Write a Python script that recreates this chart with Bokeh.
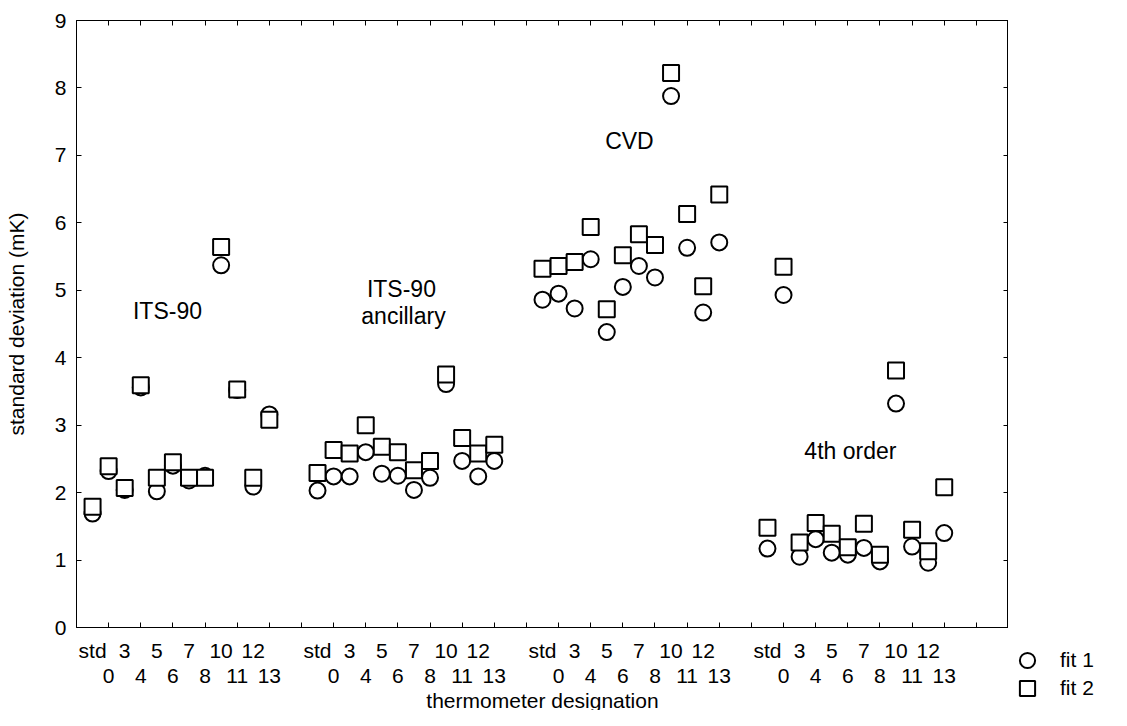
from bokeh.plotting import figure
from bokeh.models import (Range1d, FixedTicker, LinearAxis, Legend, LegendItem,
                          Label, ColumnDataSource, Spacer)
from bokeh.layouts import row, column
from bokeh.embed import file_html
from bokeh.resources import INLINE

groups = ["ITS-90", "ITS-90 ancillary", "CVD", "4th order"]
thermometers = ["std", "0", "3", "4", "5", "6", "7", "8", "10", "11", "12", "13"]

fit1_its90 = [1.69, 2.32, 2.04, 3.56, 2.02, 2.40, 2.18, 2.25, 5.37, 3.52, 2.09, 3.16]
fit2_its90 = [1.79, 2.39, 2.07, 3.59, 2.22, 2.45, 2.22, 2.22, 5.64, 3.53, 2.22, 3.08]
fit1_anc = [2.03, 2.24, 2.24, 2.60, 2.28, 2.25, 2.04, 2.22, 3.61, 2.47, 2.24, 2.47]
fit2_anc = [2.29, 2.63, 2.58, 3.00, 2.68, 2.60, 2.33, 2.47, 3.75, 2.81, 2.58, 2.71]
fit1_cvd = [4.86, 4.95, 4.73, 5.46, 4.38, 5.05, 5.36, 5.19, 7.88, 5.63, 4.67, 5.71]
fit2_cvd = [5.32, 5.36, 5.42, 5.94, 4.72, 5.52, 5.83, 5.67, 8.22, 6.13, 5.06, 6.42]
fit1_4th = [1.17, 4.93, 1.05, 1.31, 1.11, 1.08, 1.18, 0.98, 3.32, 1.20, 0.96, 1.40]
fit2_4th = [1.48, 5.35, 1.26, 1.55, 1.39, 1.19, 1.54, 1.08, 3.81, 1.45, 1.13, 2.08]

y_ticks = [0, 1, 2, 3, 4, 5, 6, 7, 8, 9]

fit1 = [fit1_its90, fit1_anc, fit1_cvd, fit1_4th]
fit2 = [fit2_its90, fit2_anc, fit2_cvd, fit2_4th]

slot = len(thermometers) + 2  # two empty slots between groups
xs, y1, y2 = [], [], []
label_pos, overrides = [], {}
for g in range(len(groups)):
    for i, t in enumerate(thermometers):
        x = g * slot + i + 1
        xs.append(x)
        y1.append(fit1[g][i])
        y2.append(fit2[g][i])
        label_pos.append(x)
        overrides[x] = t if i % 2 == 0 else "\n" + t
x_max = len(groups) * slot + 2
minor = list(range(2, x_max - 1, 2))

src = ColumnDataSource(dict(x=xs, y1=y1, y2=y2))

FONT = "Liberation Sans"
TS = "21px"
W_MAIN = 1008

p = figure(width=W_MAIN, height=689, x_range=Range1d(0, x_max), y_range=Range1d(0, 9),
           output_backend="svg", toolbar_location=None,
           min_border_left=76, min_border_right=0, min_border_top=20, min_border_bottom=61,
           x_axis_type=None, y_axis_type=None)
p.grid.visible = False
p.outline_line_color = "black"
p.outline_line_width = 1
p.background_fill_color = "white"
p.border_fill_color = "white"

xt = FixedTicker(ticks=label_pos, minor_ticks=minor)
xb = LinearAxis(ticker=xt, major_label_overrides=overrides)
xb.major_tick_line_color = None
xb.minor_tick_in = 5
xb.minor_tick_out = 0
xb.minor_tick_line_color = "black"
xb.major_label_standoff = 5
xb.major_label_text_font = FONT
xb.major_label_text_font_size = TS
xb.major_label_text_line_height = 1.1
xb.major_label_text_color = "black"
xb.axis_line_color = "black"
p.add_layout(xb, "below")

xa = LinearAxis(ticker=FixedTicker(ticks=minor, minor_ticks=[]))
xa.major_tick_in = 5
xa.major_tick_out = 0
xa.minor_tick_line_color = None
xa.major_label_text_font_size = "0px"
xa.major_label_text_color = None
xa.major_label_standoff = 0
p.add_layout(xa, "above")

yt = FixedTicker(ticks=y_ticks, minor_ticks=[])
yl = LinearAxis(ticker=yt, axis_label="standard deviation (mK)")
yl.major_tick_in = 5
yl.major_tick_out = 0
yl.minor_tick_line_color = None
yl.major_label_standoff = 10
yl.major_label_text_font = FONT
yl.major_label_text_font_size = TS
yl.major_label_text_color = "black"
yl.axis_label_text_font = FONT
yl.axis_label_text_font_size = TS
yl.axis_label_text_font_style = "normal"
yl.axis_label_text_color = "black"
yl.axis_label_standoff = 24
p.add_layout(yl, "left")

yr = LinearAxis(ticker=FixedTicker(ticks=y_ticks, minor_ticks=[]))
yr.major_tick_in = 5
yr.major_tick_out = 0
yr.minor_tick_line_color = None
yr.major_label_text_font_size = "0px"
yr.major_label_text_color = None
yr.major_label_standoff = 0
p.add_layout(yr, "right")

mk1 = dict(marker="circle", size=16, line_width=2, line_color="black", fill_color="white")
mk2 = dict(marker="square", size=16, line_width=2, line_color="black", fill_color="white")
r1 = p.scatter("x", "y1", source=src, **mk1)
r2 = p.scatter("x", "y2", source=src, **mk2)

for txt, lx, ly in [("ITS-90", 5.66, 4.69), ("ITS-90", 20.22, 5.02),
                    ("ancillary", 20.35, 4.62), ("CVD", 34.41, 7.22),
                    ("4th order", 48.16, 2.62)]:
    p.add_layout(Label(x=lx, y=ly, text=txt, text_align="center", text_baseline="middle",
                       text_font=FONT, text_font_size="23px", text_color="black"))

# x-axis title strip under the main plot
t = figure(width=W_MAIN, height=21, x_range=p.x_range, y_range=Range1d(0, 1),
           output_backend="svg", toolbar_location=None,
           min_border_left=76, min_border_right=0, min_border_top=0, min_border_bottom=0,
           x_axis_type=None, y_axis_type=None, outline_line_color=None)
t.grid.visible = False
t.add_layout(Label(x=x_max / 2, y=0.5, text="thermometer designation",
                   text_align="center", text_baseline="middle",
                   text_font=FONT, text_font_size=TS, text_color="black"))

# legend panel at the lower right, outside the plot frame
# (its renderers share the real data but their view range excludes it)
q = figure(width=103, height=66, x_range=Range1d(0, 1), y_range=Range1d(-2, -1),
           output_backend="svg", toolbar_location=None, min_border=0,
           x_axis_type=None, y_axis_type=None, outline_line_color=None)
q.grid.visible = False
q1 = q.scatter("x", "y1", source=src, **mk1)
q2 = q.scatter("x", "y2", source=src, **mk2)
leg_style = dict(margin=0, padding=0, spacing=0, label_standoff=14,
                 glyph_width=38, glyph_height=38,
                 label_text_font=FONT, label_text_font_size=TS,
                 label_text_color="black", label_text_baseline="middle",
                 border_line_color=None, background_fill_alpha=0)
q.add_layout(Legend(items=[LegendItem(label="fit 1", renderers=[q1])],
                    location="top_left", **leg_style))
q.add_layout(Legend(items=[LegendItem(label="fit 2", renderers=[q2])],
                    location="bottom_left", **leg_style))

layout = row(column(p, t), column(Spacer(width=103, height=641), q))

open("out.html", "w").write(file_html(layout, INLINE))
